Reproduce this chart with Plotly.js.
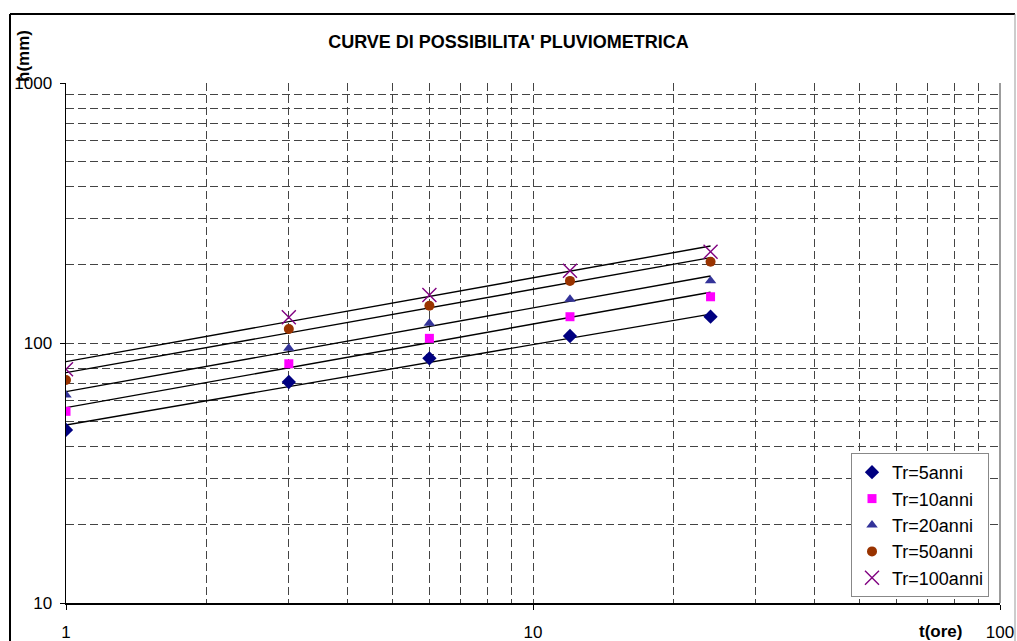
<!DOCTYPE html>
<html>
<head>
<meta charset="utf-8">
<script src="https://cdn.plot.ly/plotly-3.0.1.min.js"></script>
<style>html,body{margin:0;padding:0;background:#fff;}#chart{width:1017px;height:641px;}</style>
</head>
<body>
<div id="chart"></div>
<script>
// durations (hours)
const durations = [1, 3, 6, 12, 24];
// observed rainfall heights h(mm) per return period
const tr5 = [46.3, 70.8, 87.3, 106.4, 126.2];
const tr10 = [54.6, 83.2, 104.2, 126.2, 150.6];
const tr20 = [63.1, 95.4, 119.1, 147.2, 173.7];
const tr50 = [72.1, 113.2, 139.1, 173.3, 205.5];
const tr100 = [79.2, 125.6, 153.0, 189.7, 224.5];
// trend (power-law) line endpoints, at t=1 and t=24
const trendT = [1, 24];
const trend5 = [48.4, 129.2];
const trend10 = [56.4, 156.7];
const trend20 = [65.0, 181.0];
const trend50 = [76.9, 212.9];
const trend100 = [84.8, 236.1];
const seriesNames = ['Tr=5anni', 'Tr=10anni', 'Tr=20anni', 'Tr=50anni', 'Tr=100anni'];

const obs = [tr5, tr10, tr20, tr50, tr100];
const trends = [trend5, trend10, trend20, trend50, trend100];
const markerStyles = [
  {symbol: 'diamond', color: '#000080', size: 11},
  {symbol: 'square', color: '#FF00FF', size: 9},
  {symbol: 'triangle-up', color: '#333399', size: 10},
  {symbol: 'circle', color: '#993300', size: 10},
  {symbol: 'x-thin-open', color: '#800080', size: 14, line: {color: '#800080', width: 1.4}}
];

const traces = [];
trends.forEach((tv) => {
  traces.push({x: trendT, y: tv, type: 'scatter', mode: 'lines',
    line: {color: '#000', width: 1.4}, showlegend: false, hoverinfo: 'skip'});
});
obs.forEach((v, i) => {
  const m = Object.assign({}, markerStyles[i]);
  traces.push({x: durations, y: v, type: 'scatter', mode: 'markers', name: seriesNames[i], marker: m});
});

const gridDash = '8px,4px';
const gridColor = '#444';
const layout = {
  width: 1017, height: 641,
  margin: {l: 66, r: 17, t: 83, b: 38},
  paper_bgcolor: '#fff', plot_bgcolor: '#fff',
  font: {family: 'Liberation Sans, Arial, sans-serif', size: 17, color: '#000'},
  title: {text: "<b>CURVE DI POSSIBILITA' PLUVIOMETRICA</b>", x: 0.5, xanchor: 'center',
    y: 1 - 42 / 641, yanchor: 'middle', font: {size: 18, color: '#000'}},
  xaxis: {type: 'log', range: [0, 2], tickvals: [1, 10, 100], ticktext: ['1', '10', '100'],
    ticks: 'outside', ticklen: 5, tickcolor: '#000', showline: true, linecolor: '#000', linewidth: 1.5,
    showgrid: true, gridcolor: gridColor, griddash: gridDash, gridwidth: 1, zeroline: false,
    ticklabelstandoff: 8, tickfont: {size: 17},
    minor: {dtick: 'D1', showgrid: true, gridcolor: gridColor, griddash: gridDash, gridwidth: 1, ticks: ''}},
  yaxis: {type: 'log', range: [1, 3], tickvals: [10, 100, 1000], ticktext: ['10', '100', '1000'],
    ticks: 'outside', ticklen: 5, tickcolor: '#000', showline: true, linecolor: '#000', linewidth: 1.5,
    showgrid: true, gridcolor: gridColor, griddash: gridDash, gridwidth: 1, zeroline: false,
    ticklabelstandoff: 4, tickfont: {size: 17},
    minor: {dtick: 'D1', showgrid: true, gridcolor: gridColor, griddash: gridDash, gridwidth: 1, ticks: ''}},
  legend: {x: (851 - 66) / 934, y: (603 - 453) / 520, xanchor: 'left', yanchor: 'top',
    bgcolor: '#fff', bordercolor: '#888', borderwidth: 1, font: {size: 18},
    tracegroupgap: 0, itemwidth: 30},
  showlegend: true,
  annotations: [
    {text: '<b>h(mm)</b>', xref: 'paper', yref: 'paper', x: (24 - 66) / 934, y: (603 - 56) / 520,
      textangle: -90, showarrow: false, xanchor: 'center', yanchor: 'middle', font: {size: 17}},
    {text: '<b>t(ore)</b>', xref: 'paper', yref: 'paper', x: (940 - 66) / 934, y: (603 - 631) / 520,
      showarrow: false, xanchor: 'center', yanchor: 'middle', font: {size: 17}}
  ],
  shapes: [
    {type: 'line', xref: 'paper', yref: 'paper', x0: 1, x1: 1, y0: 0, y1: 1, line: {color: '#666', width: 1.3}},
    {type: 'line', xref: 'paper', yref: 'paper', x0: (10 - 66) / 934, x1: (1015 - 66) / 934,
      y0: (603 - 14) / 520, y1: (603 - 14) / 520, line: {color: '#000', width: 2}},
    {type: 'line', xref: 'paper', yref: 'paper', x0: (10 - 66) / 934, x1: (10 - 66) / 934,
      y0: (603 - 14) / 520, y1: (603 - 645) / 520, line: {color: '#000', width: 2}},
    {type: 'line', xref: 'paper', yref: 'paper', x0: (1015 - 66) / 934, x1: (1015 - 66) / 934,
      y0: (603 - 14) / 520, y1: (603 - 645) / 520, line: {color: '#999', width: 1}}
  ]
};

Plotly.newPlot('chart', traces, layout, {displayModeBar: false, staticPlot: true});
</script>
</body>
</html>
